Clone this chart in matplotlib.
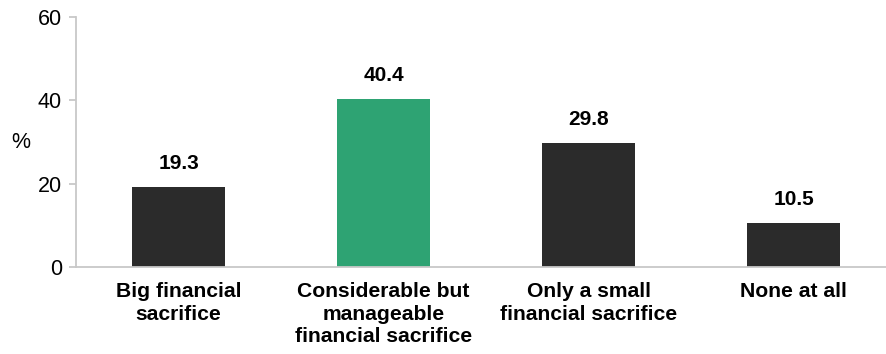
import matplotlib
matplotlib.use("Agg")
import matplotlib.pyplot as plt

categories = ["Big financial\nsacrifice",
              "Considerable but\nmanageable\nfinancial sacrifice",
              "Only a small\nfinancial sacrifice",
              "None at all"]
values = [19.3, 40.4, 29.8, 10.5]
colors = ["#2b2b2b", "#2ea373", "#2b2b2b", "#2b2b2b"]

plt.rcParams['font.family'] = ['Liberation Sans', 'DejaVu Sans']

fig = plt.figure(figsize=(8.86, 3.54), dpi=100)
ax = fig.add_axes([76 / 886, 1 - 267 / 354, 810 / 886, 250 / 354])

x = range(len(values))
bars = ax.bar(x, values, width=0.453, color=colors)

for b, v in zip(bars, values):
    ax.annotate(f"{v:.1f}", (b.get_x() + b.get_width() / 2, v),
                xytext=(0, 10), textcoords="offset points",
                ha="center", va="bottom", fontsize=15, fontweight="bold")

ax.set_xlim(-0.5, 3.45)
ax.set_ylim(0, 60)
ax.set_yticks([0, 20, 40, 60])
ax.set_xticks(list(x))
ax.set_xticklabels(categories, fontsize=15.2, fontweight="bold", linespacing=1.22)

for s in ["top", "right"]:
    ax.spines[s].set_visible(False)
for s in ["left", "bottom"]:
    ax.spines[s].set_color("#c8c8c8")
    ax.spines[s].set_linewidth(1.3)

ax.tick_params(axis="x", length=0, pad=11)
ax.tick_params(axis="y", length=5, color="#c8c8c8", width=1.3, labelsize=15.5, pad=5)

ax.set_ylabel("%", rotation=0, fontsize=15.5, va="center", ha="center")
ax.yaxis.set_label_coords(-0.068, 0.5)

fig.savefig("out.png", dpi=100)
